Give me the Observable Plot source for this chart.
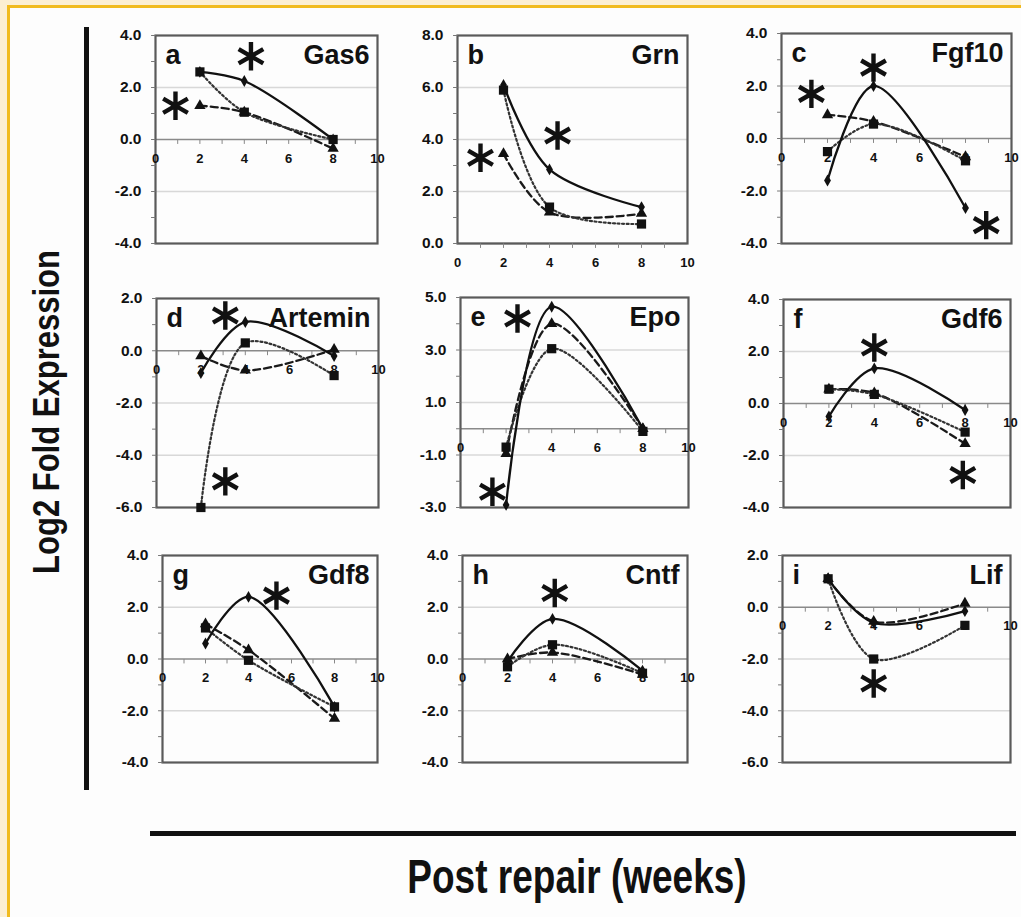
<!DOCTYPE html>
<html>
<head>
<meta charset="utf-8">
<script src="https://cdn.jsdelivr.net/npm/d3@7"></script>
<script src="https://cdn.jsdelivr.net/npm/@observablehq/plot@0.6"></script>
<style>
  html, body { margin: 0; padding: 0; }
  body { width: 1021px; height: 917px; overflow: hidden; background: #fcefd3; font-family: "Liberation Sans", Arial, sans-serif; }
  #page { position: absolute; left: 7px; top: 5px; width: 1100px; height: 1000px; background: #fdfdfd; border-left: 3px solid #f1bb1f; border-top: 3px solid #f1bb1f; }
  #root { position: absolute; left: 0; top: 0; width: 1021px; height: 917px; }
  .vbar { position: absolute; left: 84px; top: 27px; width: 5px; height: 763px; background: #111; }
  .hbar { position: absolute; left: 150px; top: 831px; width: 866px; height: 5px; background: #111; }
  .ylab { position: absolute; left: 47px; top: 412px; font-weight: bold; font-size: 31px; color: #111; white-space: nowrap;
          transform: translate(-50%, -50%) rotate(-90deg) scaleY(1.2); }
  .xlab { position: absolute; left: 577px; top: 877px; font-weight: bold; font-size: 37px; color: #111; white-space: nowrap;
          transform: translate(-50%, -50%) scaleY(1.3); }
</style>
</head>
<body>
<div id="page"></div>
<div id="root">
  <div class="vbar"></div>
  <div class="hbar"></div>
  <div class="ylab">Log2 Fold Expression</div>
  <div class="xlab">Post repair (weeks)</div>
</div>
<script>
// ---------- data ----------
const weeks = [2, 4, 8];
const xTickValues = [0, 2, 4, 6, 8, 10];
const panelLetters = ["a", "b", "c", "d", "e", "f", "g", "h", "i"];
const genes = ["Gas6", "Grn", "Fgf10", "Artemin", "Epo", "Gdf6", "Gdf8", "Cntf", "Lif"];

// solid line, diamond markers
const diamondSeries = [
  [2.6, 2.25, 0.0],
  [6.1, 2.85, 1.4],
  [-1.6, 2.0, -2.65],
  [-0.85, 1.1, -0.2],
  [-2.9, 4.65, 0.0],
  [-0.5, 1.35, -0.25],
  [0.6, 2.4, -1.85],
  [-0.1, 1.55, -0.45],
  [1.1, -0.6, -0.15]
];
// dotted line, square markers
const squareSeries = [
  [2.6, 1.05, 0.0],
  [5.9, 1.4, 0.75],
  [-0.5, 0.55, -0.85],
  [-6.0, 0.3, -0.95],
  [-0.7, 3.05, -0.1],
  [0.55, 0.35, -1.1],
  [1.2, -0.05, -1.85],
  [-0.3, 0.55, -0.55],
  [1.1, -2.0, -0.7]
];
// dashed line, triangle markers
const triangleSeries = [
  [1.3, 1.05, -0.35],
  [3.45, 1.2, 1.15],
  [0.9, 0.65, -0.7],
  [-0.2, -0.75, 0.05],
  [-0.95, 4.0, 0.0],
  [0.55, 0.4, -1.55],
  [1.35, 0.35, -2.3],
  [0.0, 0.25, -0.6],
  [1.1, -0.55, 0.15]
];
const yDomains = [[-4, 4], [0, 8], [-4, 4], [-6, 2], [-3, 5], [-4, 4], [-4, 4], [-4, 4], [-6, 2]];
const yTickLabels = [
  [-4, -2, 0, 2, 4], [0, 2, 4, 6, 8], [-4, -2, 0, 2, 4],
  [-6, -4, -2, 0, 2], [-3, -1, 1, 3, 5], [-4, -2, 0, 2, 4],
  [-4, -2, 0, 2, 4], [-4, -2, 0, 2, 4], [-6, -4, -2, 0, 2]
];
const gridValues = [
  [2, -2], [2, 4, 6], [2, -2],
  [-2, -4], [3, 1, -1], [2, -2],
  [2, -2], [2, -2], [-2, -4]
];
// significance asterisks (x in weeks, y in log2 fold)
const asterisks = [
  [[4.3, 3.2], [0.9, 1.3]],
  [[4.35, 4.15], [1.0, 3.3]],
  [[4.0, 2.7], [1.3, 1.7], [8.9, -3.3]],
  [[3.1, 1.35], [3.1, -5.0]],
  [[2.5, 4.2], [1.4, -2.4]],
  [[4.0, 2.15], [7.9, -2.75]],
  [[5.3, 2.45]],
  [[4.1, 2.55]],
  [[4.0, -2.95]]
];

// ---------- layout (frame pixel boxes: left, top, right, bottom) ----------
const frames = [
  [155, 35, 377, 243], [457, 35, 687, 243], [781, 33, 1011, 243],
  [156, 298, 378, 507], [460, 297, 688, 507], [783, 299, 1010, 507],
  [162, 555, 377, 762], [462, 555, 687, 762], [782, 555, 1010, 762]
];

const tickSym = { draw(ctx, size) { const l = Math.sqrt(size); ctx.moveTo(0, 0); ctx.lineTo(0, l); } };
const root = document.getElementById("root");
const font = "'Liberation Sans', Arial, sans-serif";

function panel(i) {
  const [L, T, R, B] = frames[i];
  const mL = 60, mT = 10, mR = 14, mB = 30;
  const W = R - L + mL + mR, H = B - T + mT + mB;
  const rows = weeks.map((w, k) => ({ w, d: diamondSeries[i][k], s: squareSeries[i][k], t: triangleSeries[i][k] }));
  const [y0, y1] = yDomains[i];
  const minor = d3.range(Math.ceil(y0), Math.floor(y1) + 1);
  const xMinor = d3.range(1, 10);
  const ast = asterisks[i].map(([x, y]) => ({ x, y }));

  const chart = Plot.plot({
    width: W, height: H,
    marginLeft: mL, marginTop: mT, marginRight: mR, marginBottom: mB,
    x: { domain: [0, 10], axis: null },
    y: { domain: yDomains[i], axis: null },
    style: { fontFamily: font, background: "transparent", overflow: "visible", color: "#111" },
    marks: [
      Plot.ruleY(gridValues[i], { stroke: "#d8d8d8", strokeWidth: 1.3 }),
      Plot.ruleY([0], { stroke: "#8a8a8a", strokeWidth: 1.6 }),
      Plot.frame({ stroke: "#5a5a5a", strokeWidth: 2.2 }),
      Plot.dot(minor, { x: () => 0, y: d => d, symbol: tickSym, r: 2.5, stroke: "#777", strokeWidth: 1, fill: "none", rotate: 90 }),
      Plot.text(yTickLabels[i], { x: () => 0, y: d => d, text: d => d.toFixed(1), textAnchor: "end", dx: -14, fontSize: 15.5, fontWeight: "bold", fill: "#111" }),
      Plot.dot(xMinor, { x: d => d, y: () => 0, symbol: tickSym, r: 2.5, stroke: "#888", strokeWidth: 1, fill: "none" }),
      Plot.line(rows, { x: "w", y: "t", curve: "catmull-rom", stroke: "#1a1a1a", strokeWidth: 2.3, strokeDasharray: "7,4" }),
      Plot.line(rows, { x: "w", y: "s", curve: "catmull-rom", stroke: "#333", strokeWidth: 2.2, strokeDasharray: "2,2.6" }),
      Plot.line(rows, { x: "w", y: "d", curve: "catmull-rom", stroke: "#111", strokeWidth: 2.3 }),
      Plot.dot(rows, { x: "w", y: "t", symbol: "triangle", r: 4.2, fill: "#111" }),
      Plot.dot(rows, { x: "w", y: "s", symbol: "square", r: 5.2, fill: "#111" }),
      Plot.dot(rows, { x: "w", y: "d", symbol: "diamond", r: 3.6, fill: "#111" }),
      Plot.text(xTickValues, { x: d => d, y: () => 0, text: d => String(d), dy: 19, fontSize: 13, fontWeight: "bold", fill: "#111" }),
      Plot.dot(ast, { x: "x", y: "y", symbol: "asterisk", r: 13.5, stroke: "#111", strokeWidth: 4.4 }),
      Plot.text([panelLetters[i]], { frameAnchor: "top-left", dx: 10, dy: 9, fontSize: 27, fontWeight: "bold", fill: "#111" }),
      Plot.text([genes[i]], { frameAnchor: "top-right", dx: -8, dy: 9, fontSize: 27, fontWeight: "bold", fill: "#111" })
    ]
  });
  chart.style.position = "absolute";
  chart.style.left = (L - mL) + "px";
  chart.style.top = (T - mT) + "px";
  root.appendChild(chart);
}

for (let i = 0; i < 9; i++) panel(i);
</script>
</body>
</html>
